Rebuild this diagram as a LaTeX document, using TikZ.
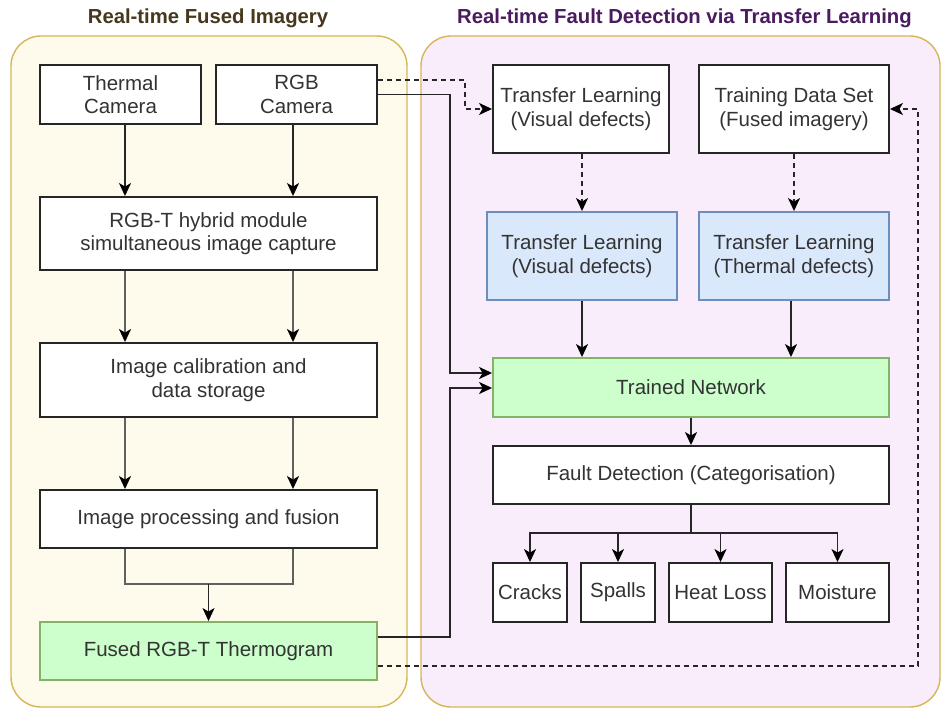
\documentclass[tikz,border=0pt]{standalone}
\usepackage{fontspec}
\setmainfont{Liberation Sans}
\usetikzlibrary{arrows.meta,calc}
\definecolor{lfill}{HTML}{FFFBEC}
\definecolor{rfill}{HTML}{FAEDFB}
\definecolor{cborder}{HTML}{D6B656}
\definecolor{gfill}{HTML}{CCFFCC}
\definecolor{gborder}{HTML}{82B366}
\definecolor{bfill}{HTML}{DAE8FC}
\definecolor{bborder}{HTML}{6C8EBF}
\definecolor{txt}{HTML}{333333}
\definecolor{ltitle}{HTML}{45381C}
\definecolor{rtitle}{HTML}{4A1B5E}
\begin{document}
\begin{tikzpicture}[x=1pt,y=-1pt,
  cont/.style={draw=cborder,line width=1.4pt,rounded corners=30pt,inner sep=0pt},
  box/.style={draw=black!85,line width=1.9pt,fill=white,inner sep=0pt,align=center,
    text=txt,font=\fontsize{20.5}{23.5}\selectfont},
  gbox/.style={box,draw=gborder,fill=gfill},
  bbox/.style={box,draw=bborder,fill=bfill},
  ttl/.style={font=\fontsize{20.3}{23}\selectfont\bfseries,anchor=base},
  tip/.style={-{Stealth[length=13pt,width=12pt,inset=3.5pt,color=black]}},
  arr/.style={line width=1.8pt,draw=black!85,tip},
  ln/.style={line width=1.8pt,draw=black!85},
  gln/.style={line width=2pt,draw=black!62},
  garr/.style={gln,tip},
  dsh/.style={dash pattern=on 5pt off 4pt}
]
\useasboundingbox (0,0) rectangle (941,708);
\fill[white] (0,0) rectangle (941,708);

% containers
\node[cont,fill=lfill,minimum width=396pt,minimum height=671pt] (lc) at (209,371.5) {};
\node[cont,fill=rfill,minimum width=519pt,minimum height=671pt] (rc) at (680.5,371.5) {};

% titles
\node[ttl,text=ltitle] (t1) at (208,24) {Real-time Fused Imagery};
\node[ttl,text=rtitle] (t2) at (684.5,24) {Real-time Fault Detection via Transfer Learning};

% left column
\node[box,minimum width=161pt,minimum height=59pt] (thermal) at (120.5,94.5) {Thermal\\Camera};
\node[box,minimum width=161pt,minimum height=59pt] (rgb) at (296.5,94.5) {RGB\\Camera};
\node[box,minimum width=337pt,minimum height=73pt] (hybrid) at (208.5,233.5) {RGB-T hybrid module\\simultaneous image capture};
\node[box,minimum width=337pt,minimum height=74pt] (calib) at (208.5,380) {Image calibration and\\data storage};
\node[box,minimum width=337pt,minimum height=58pt] (proc) at (208.5,519) {Image processing and fusion};
\node[gbox,minimum width=337pt,minimum height=58pt] (fused) at (208.5,651) {Fused RGB-T Thermogram};

% right column
\node[box,minimum width=176pt,minimum height=88pt] (tlv1) at (581,109) {Transfer Learning\\(Visual defects)};
\node[box,minimum width=190pt,minimum height=88pt] (tds) at (794,109) {Training Data Set\\(Fused imagery)};
\node[bbox,minimum width=190pt,minimum height=88pt] (tlv2) at (582,256) {Transfer Learning\\(Visual defects)};
\node[bbox,minimum width=190pt,minimum height=88pt] (tlt) at (794,256) {Transfer Learning\\(Thermal defects)};
\node[gbox,minimum width=396pt,minimum height=59pt] (trained) at (691,387.5) {Trained Network};
\node[box,minimum width=396pt,minimum height=58pt] (fault) at (691,475) {Fault Detection (Categorisation)};
\node[box,minimum width=74pt,minimum height=59pt] (cracks) at (530,592.5) {Cracks};
\node[box,minimum width=74pt,minimum height=59pt] (spalls) at (618,592.5) {Spalls};
\node[box,minimum width=103pt,minimum height=59pt] (heat) at (720.5,592.5) {Heat Loss};
\node[box,minimum width=103pt,minimum height=59pt] (moist) at (837.5,592.5) {Moisture};

% helper coordinates
\coordinate (L1) at (125,0);
\coordinate (L2) at (293,0);
\coordinate (J) at (208.5,584);
\coordinate (B) at (691,533);

% left column connectors
\draw[arr] (thermal.south -| L1) -- (hybrid.north -| L1);
\draw[arr] (rgb.south -| L2) -- (hybrid.north -| L2);
\draw[garr] (hybrid.south -| L1) -- (calib.north -| L1);
\draw[garr] (hybrid.south -| L2) -- (calib.north -| L2);
\draw[garr] (calib.south -| L1) -- (proc.north -| L1);
\draw[garr] (calib.south -| L2) -- (proc.north -| L2);
\draw[gln] (proc.south -| L1) |- (J) -| (proc.south -| L2);
\draw[arr] (J) -- (fused.north);

% cross connectors
\draw[arr,dsh] (rgb.east |- 0,80) -- (465,80) |- (tlv1.west);
\draw[arr] (rgb.east) -- (450,94.5) |- (trained.west |- 0,373);
\draw[arr] (fused.east |- 0,637) -- (450,637) |- (trained.west |- 0,388);
\draw[arr,dsh] (fused.east |- 0,666) -- (918,666) |- (tds.east);

% right column connectors
\draw[arr,dsh] (tlv1.south -| tlv2.north) -- (tlv2.north);
\draw[arr,dsh] (tds.south) -- (tlt.north);
\draw[arr] (tlv2.south) -- (trained.north -| tlv2.south);
\draw[arr] (tlt.south -| 791,0) -- (trained.north -| 791,0);
\draw[arr] (trained.south) -- (fault.north);
\draw[ln] (fault.south) -- (B);
\draw[arr] (B) -| (cracks.north);
\draw[arr] (B) -| (spalls.north);
\draw[arr] (B) -| (heat.north);
\draw[arr] (B) -| (moist.north);
\end{tikzpicture}
\end{document}
